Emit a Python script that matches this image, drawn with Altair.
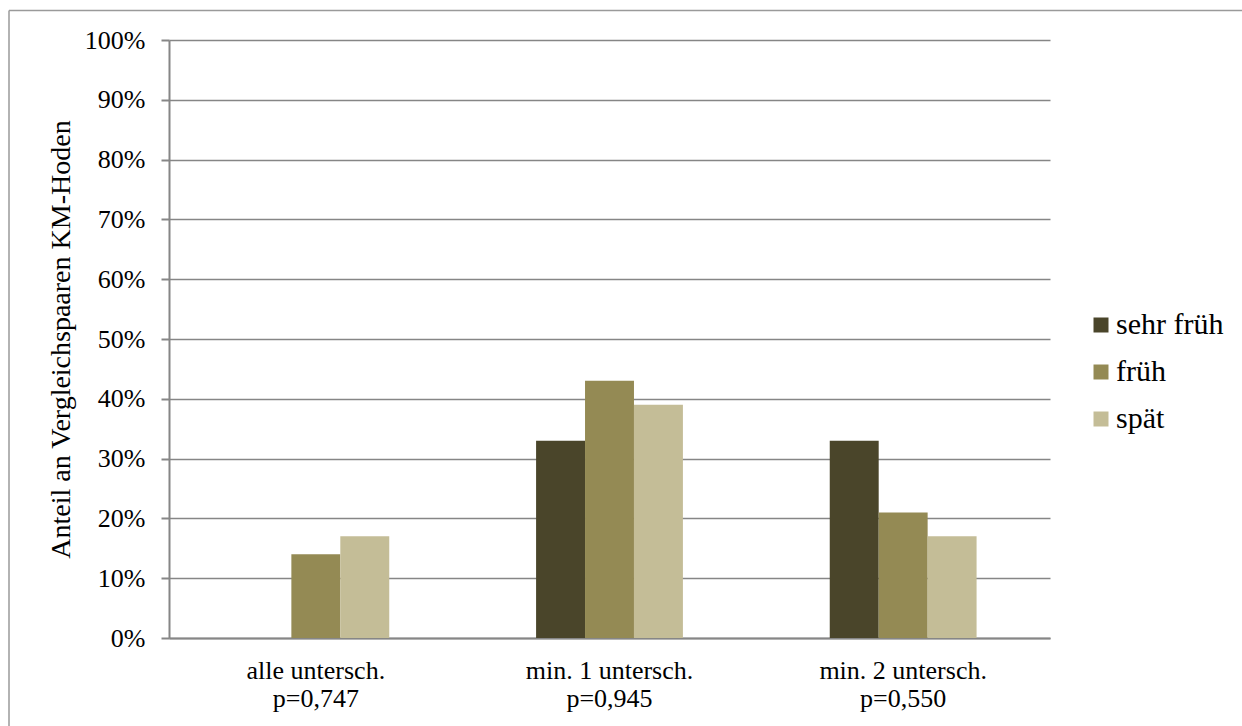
import altair as alt
import pandas as pd

# Kategorien (zweizeilige Achsenbeschriftung) und Gruppen
categories = ["alle untersch.\np=0,747", "min. 1 untersch.\np=0,945", "min. 2 untersch.\np=0,550"]
groups = ["sehr früh", "früh", "spät"]
colors = ["#4a452a", "#948a54", "#c4bd97"]

# Anteile je Gruppe und Kategorie
sehr_frueh = [0.00, 0.33, 0.33]
frueh = [0.14, 0.43, 0.21]
spaet = [0.17, 0.39, 0.17]

rows = []
for series_name, vals in zip(groups, [sehr_frueh, frueh, spaet]):
    for cat, v in zip(categories, vals):
        rows.append({"Kategorie": cat, "Gruppe": series_name, "Anteil": v})
df = pd.DataFrame(rows)

FONT = "'Liberation Serif', 'Times New Roman', serif"
GRID = "#868686"

bars = alt.Chart(df).mark_bar().encode(
    x=alt.X(
        "Kategorie:N",
        sort=categories,
        scale=alt.Scale(paddingInner=0.5, paddingOuter=0.25),
        axis=alt.Axis(
            title=None,
            labelAngle=0,
            ticks=False,
            labelExpr="split(datum.label, '\\n')",
            labelFont=FONT,
            labelFontSize=26,
            labelLineHeight=28,
            labelColor="black",
            labelPadding=19,
            domainColor=GRID,
            domainWidth=2,
            grid=False,
        ),
    ),
    xOffset=alt.XOffset("Gruppe:N", sort=groups, scale=alt.Scale(paddingInner=0, paddingOuter=0)),
    y=alt.Y(
        "Anteil:Q",
        scale=alt.Scale(domain=[0, 1], nice=False),
        axis=alt.Axis(
            title="Anteil an Vergleichspaaren KM-Hoden",
            titleFont=FONT,
            titleFontSize=28,
            titleFontWeight="normal",
            titleColor="black",
            titleX=-100,
            titleY=299,
            titleBaseline="alphabetic",
            titleAngle=270,
            values=[i / 10 for i in range(11)],
            format=".0%",
            labelFont=FONT,
            labelFontSize=26,
            labelColor="black",
            labelPadding=16,
            tickSize=8,
            tickColor=GRID,
            tickWidth=2,
            domainColor=GRID,
            domainWidth=2,
            gridColor=GRID,
            gridWidth=1.5,
        ),
    ),
    color=alt.Color(
        "Gruppe:N",
        sort=groups,
        scale=alt.Scale(domain=groups, range=colors),
        legend=alt.Legend(
            title=None,
            orient="none",
            legendX=917,
            legendY=270,
            padding=0,
            symbolType="square",
            symbolSize=225,
            symbolStrokeWidth=0,
            symbolOpacity=1,
            labelFont=FONT,
            labelFontSize=30,
            labelColor="black",
            labelOffset=0,
            rowPadding=17,
        ),
    ),
)

# Rahmen um das Diagramm (oben und links sichtbar)
frame_df = pd.DataFrame({"k": [0]})
frame_top = alt.Chart(frame_df).mark_rule(color="#9a9a9a", strokeWidth=1.5).encode(
    x=alt.value(-160), x2=alt.value(1200), y=alt.value(-29.5)
)
frame_left = alt.Chart(frame_df).mark_rule(color="#9a9a9a", strokeWidth=1.5).encode(
    x=alt.value(-160), y=alt.value(-29.5), y2=alt.value(800)
)

chart = alt.layer(bars, frame_top, frame_left).properties(
    width=881,
    height=598,
    padding={"left": 169, "top": 40, "right": 192, "bottom": 88},
    autosize=alt.AutoSizeParams(type="none"),
    background="white",
).configure(
    font=FONT
).configure_axis(
    labelFont=FONT, titleFont=FONT
).configure_legend(
    labelFont=FONT
).configure_view(stroke=None)

chart.save("out.html", embed_options={"renderer": "svg", "actions": False})
